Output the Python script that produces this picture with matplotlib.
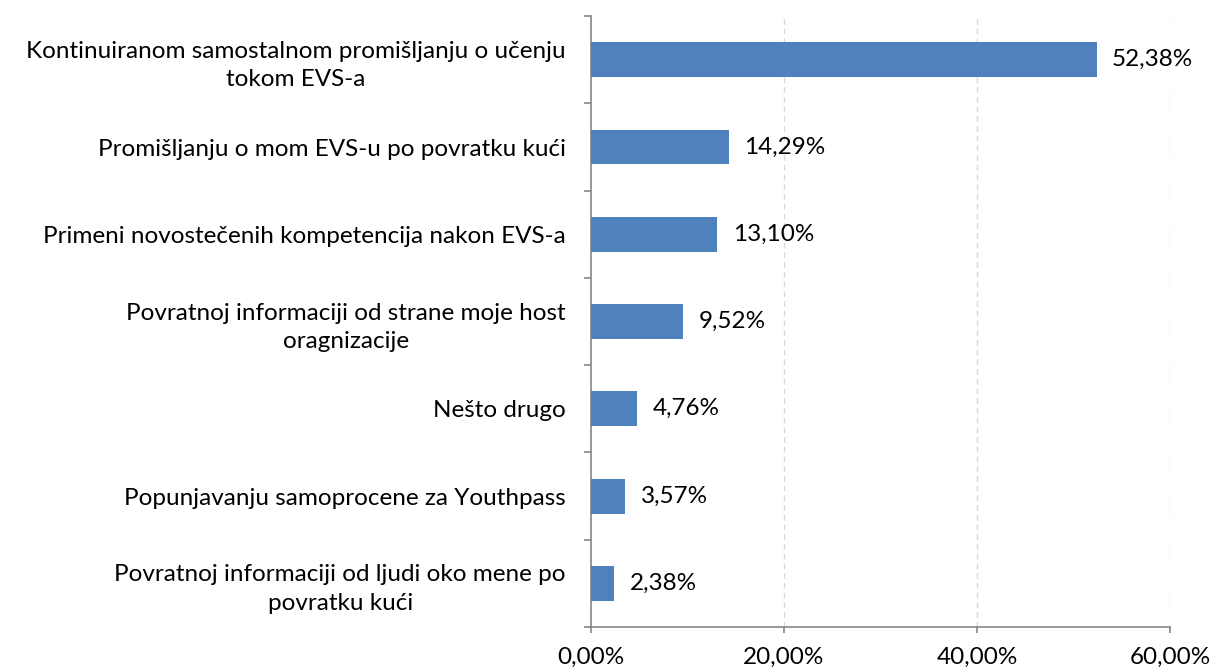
import matplotlib
matplotlib.use("Agg")
import matplotlib.pyplot as plt
import numpy as np

plt.rcParams['font.family'] = ['Lato', 'DejaVu Sans']

# categories top to bottom, as in the chart
categories = [
    "Kontinuiranom samostalnom promišljanju o učenju\ntokom EVS-a",
    "Promišljanju o mom EVS-u po povratku kući",
    "Primeni novostečenih kompetencija nakon EVS-a",
    "Povratnoj informaciji od strane moje host\noragnizacije",
    "Nešto drugo",
    "Popunjavanju samoprocene za Youthpass",
    "Povratnoj informaciji od ljudi oko mene po\npovratku kući",
]
values = [52.38, 14.29, 13.10, 9.52, 4.76, 3.57, 2.38]
xticks = [0, 20, 40, 60]

BAR_COLOR = '#4F81BD'
SPINE_COLOR = '#868686'
FS = 17.5

fig = plt.figure(figsize=(12.15, 6.71), dpi=100)
ax = fig.add_axes([0.4864, 0.0656, 0.963 - 0.4864, 0.976 - 0.0656])

n = len(categories)
ys = np.arange(n)[::-1]
ax.barh(ys, values, height=0.4, color=BAR_COLOR, zorder=3)

for y, v in zip(ys, values):
    ax.text(v + 1.6, y, ("%.2f%%" % v).replace('.', ','), va='center', ha='left',
            fontsize=FS, zorder=4)

ax.set_xlim(0, 60)
ax.set_ylim(-0.5, n - 0.5)

ax.set_xticks(xticks)
ax.set_xticklabels([("%.2f%%" % t).replace('.', ',') for t in xticks], fontsize=FS)
ax.tick_params(axis='x', length=4, color=SPINE_COLOR, width=1.2, pad=10)

ax.set_yticks(ys)
ax.set_yticklabels(categories, fontsize=FS, ha='right', multialignment='center',
                   linespacing=1.45)
ax.tick_params(axis='y', which='major', length=0, pad=18)
ax.set_yticks(np.arange(-0.5, n, 1.0), minor=True)
ax.tick_params(axis='y', which='minor', length=5, color=SPINE_COLOR, width=1.2)

for t in xticks[1:]:
    ax.axvline(t, color='#D9D9D9', linestyle=(0, (4, 3)), linewidth=1, zorder=1)

for side in ['top', 'right']:
    ax.spines[side].set_visible(False)
for side in ['left', 'bottom']:
    ax.spines[side].set_color(SPINE_COLOR)
    ax.spines[side].set_linewidth(1.2)

plt.savefig('out.png', dpi=100)
